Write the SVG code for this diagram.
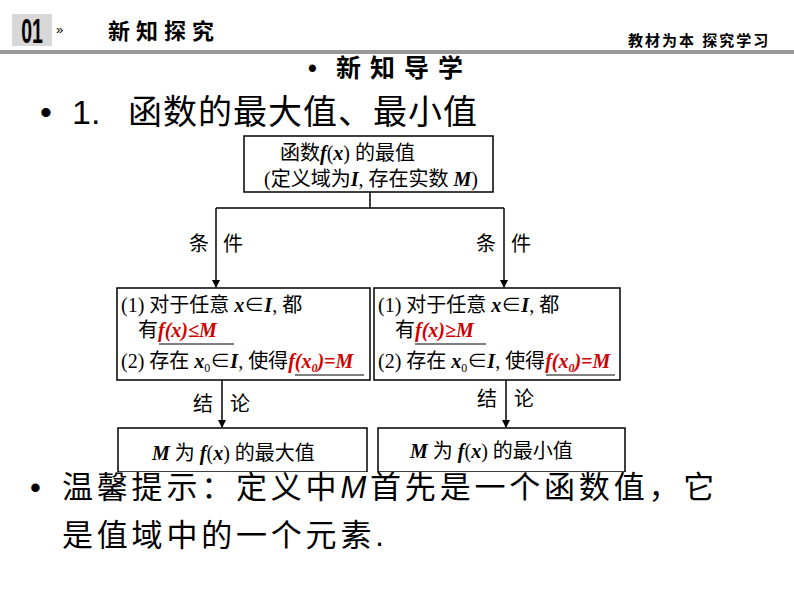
<svg xmlns="http://www.w3.org/2000/svg" width="794" height="596" viewBox="0 0 794 596">
<defs>
<marker id="ah" markerWidth="8" markerHeight="8" refX="7" refY="4" orient="auto" markerUnits="userSpaceOnUse"><path d="M0,0 L8,4 L0,8 Z" fill="#000"/></marker>
</defs>
<style>
.box{fill:#fff;stroke:#000;stroke-width:1.5}
.t{font-family:"Liberation Serif","Noto Sans CJK SC",serif;font-size:20px;fill:#000}
.r{fill:#d00000;font-style:italic;font-weight:bold}
.i{font-style:italic;font-weight:bold}
.s{font-family:"Liberation Sans","Noto Sans CJK SC",sans-serif;fill:#000}
.ln{stroke:#000;stroke-width:1.5;fill:none}
</style>
<rect width="794" height="596" fill="#fff"/>
<g id="header">
<rect x="12" y="14" width="40" height="32" fill="#d8d8d8"/>
<text x="0" y="0" text-anchor="middle" class="s" font-size="26" font-weight="bold" transform="translate(32,43) scale(0.75,1.35)">01</text>
<text x="56" y="34" class="s" font-size="13">»</text>
<text x="108" y="39" class="s" font-size="22" font-weight="bold" letter-spacing="6">新知探究</text>
<text x="628" y="46" class="s" font-size="15" font-weight="bold" letter-spacing="2">教材为本 探究学习</text>
<rect x="0" y="50" width="794" height="4" fill="#999"/>
</g>
<g id="titles">
<text x="308" y="77" class="s" font-size="25" font-weight="bold">•</text>
<text x="336" y="77" class="s" font-size="25" font-weight="bold" letter-spacing="9">新知导学</text>
<text x="40" y="124" class="s" font-size="34">•</text>
<text x="72" y="124" class="s" font-size="34">1.</text>
<text x="128" y="124" class="s" font-size="34" letter-spacing="1">函数的最大值、最小值</text>
</g>
<g id="connectors">
<path class="ln" d="M370,192 V208 M216,208 H504"/>
<path class="ln" d="M216,208 V287" marker-end="url(#ah)"/>
<path class="ln" d="M504,208 V287" marker-end="url(#ah)"/>
<path class="ln" d="M222,380 V427" marker-end="url(#ah)"/>
<path class="ln" d="M506,380 V427" marker-end="url(#ah)"/>
<text x="189" y="251" class="t" font-size="20">条</text>
<text x="223" y="251" class="t" font-size="20">件</text>
<text x="476" y="251" class="t" font-size="20">条</text>
<text x="511" y="251" class="t" font-size="20">件</text>
<text x="193" y="411" class="t" font-size="20">结</text>
<text x="230" y="411" class="t" font-size="20">论</text>
<text x="477" y="406" class="t" font-size="20">结</text>
<text x="514" y="406" class="t" font-size="20">论</text>
</g>
<g id="top">
<rect class="box" x="244" y="136" width="249" height="56"/>
<text x="280" y="160" class="t">函数<tspan class="i">f</tspan>(<tspan class="i">x</tspan>) 的最值</text>
<text x="264" y="186" class="t">(定义域为<tspan class="i">I</tspan>, 存在实数 <tspan class="i">M</tspan>)</text>
</g>
<g id="leftcond">
<rect class="box" x="117" y="288" width="253" height="92"/>
<text x="121" y="312" class="t">(1) 对于任意 <tspan class="i">x</tspan>∈<tspan class="i">I</tspan>, 都</text>
<text x="138" y="337" class="t">有<tspan class="r">f(x)≤M</tspan></text>
<line x1="159" y1="344" x2="234" y2="344" stroke="#000"/>
<text x="121" y="368" class="t">(2) 存在 <tspan class="i">x</tspan><tspan font-size="12" dy="4">0</tspan><tspan dy="-4">∈</tspan><tspan class="i">I</tspan>, 使得<tspan class="r">f(x<tspan font-size="12" dy="4">0</tspan><tspan dy="-4">)=M</tspan></tspan></text>
<line x1="295" y1="375" x2="364" y2="375" stroke="#000"/>
</g>
<g id="rightcond">
<rect class="box" x="374" y="288" width="246" height="92"/>
<text x="378" y="312" class="t">(1) 对于任意 <tspan class="i">x</tspan>∈<tspan class="i">I</tspan>, 都</text>
<text x="395" y="337" class="t">有<tspan class="r">f(x)≥M</tspan></text>
<line x1="415" y1="344" x2="486" y2="344" stroke="#000"/>
<text x="378" y="368" class="t">(2) 存在 <tspan class="i">x</tspan><tspan font-size="12" dy="4">0</tspan><tspan dy="-4">∈</tspan><tspan class="i">I</tspan>, 使得<tspan class="r">f(x<tspan font-size="12" dy="4">0</tspan><tspan dy="-4">)=M</tspan></tspan></text>
<line x1="546" y1="375" x2="615" y2="375" stroke="#000"/>
</g>
<g id="leftres">
<rect class="box" x="118" y="428" width="249" height="44"/>
<text x="152" y="460" class="t" font-size="20"><tspan class="i">M</tspan> 为 <tspan class="i">f</tspan>(<tspan class="i">x</tspan>) 的最大值</text>
</g>
<g id="rightres">
<rect class="box" x="378" y="428" width="247" height="44"/>
<text x="410" y="458" class="t" font-size="20"><tspan class="i">M</tspan> 为 <tspan class="i">f</tspan>(<tspan class="i">x</tspan>) 的最小值</text>
</g>
<g id="note">
<rect x="0" y="472" width="794" height="80" fill="#fff"/>
<text x="30" y="498" class="s" font-size="31">•</text>
<text x="62" y="498" class="s" font-size="31" letter-spacing="3.8">温馨提示：定义中<tspan font-style="italic">M</tspan>首先是一个函数值，它</text>
<text x="62" y="546" class="s" font-size="31" letter-spacing="3.8">是值域中的一个元素.</text>
</g>
</svg>
